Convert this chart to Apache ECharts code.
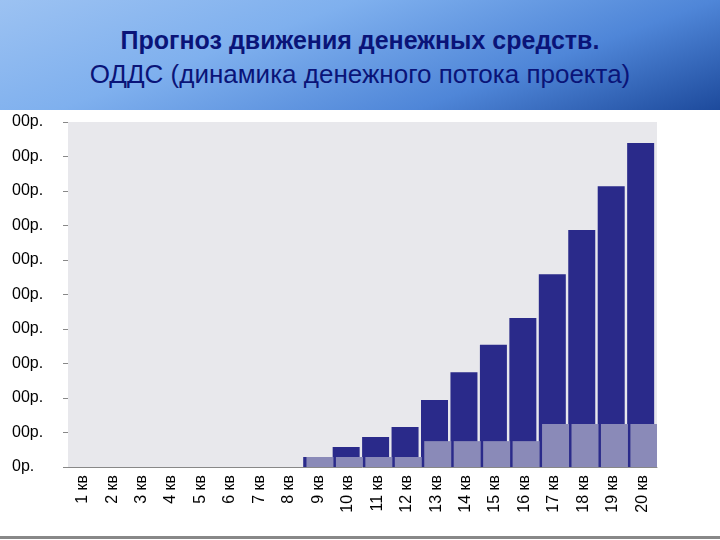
<!DOCTYPE html>
<html>
<head>
<meta charset="utf-8">
<script src="https://cdn.jsdelivr.net/npm/echarts@6/dist/echarts.min.js"></script>
<style>
  body { margin: 0; width: 720px; height: 540px; background: #fff; overflow: hidden; }
  #head {
    position: absolute; left: 0; top: 0; width: 720px; height: 110px;
    background: linear-gradient(160deg, #9cc2f2 0%, #7fb0ee 35%, #4f86d8 70%, #1d4a9c 100%);
  }
  #head div { text-align: center; color: #0a1478; font-family: "Liberation Sans", Arial, sans-serif; }
  #t1 { font-weight: bold; font-size: 25px; padding-top: 26px; }
  #t2 { font-size: 26px; margin-top: 4px; }
  #chart { position: absolute; left: 0; top: 110px; width: 720px; height: 430px; }
  #foot { position: absolute; left: 0; top: 536px; width: 720px; height: 3px; background: #888; }
</style>
</head>
<body>
<div id="head"><div id="t1">Прогноз движения денежных средств.</div><div id="t2">ОДДС (динамика денежного потока проекта)</div></div>
<div id="chart"></div>
<div id="foot"></div>
<script>
const quarters = ['1 кв', '2 кв', '3 кв', '4 кв', '5 кв', '6 кв', '7 кв', '8 кв', '9 кв', '10 кв',
  '11 кв', '12 кв', '13 кв', '14 кв', '15 кв', '16 кв', '17 кв', '18 кв', '19 кв', '20 кв'];
const totalFlow = [0, 0, 0, 0, 0, 0, 0, 0, 0.29, 0.58, 0.87, 1.16, 1.94, 2.75, 3.54, 4.32, 5.59, 6.87, 8.14, 9.39];
const quarterFlow = [0, 0, 0, 0, 0, 0, 0, 0, 0.29, 0.29, 0.29, 0.29, 0.75, 0.75, 0.75, 0.75, 1.25, 1.25, 1.25, 1.25];

const myChart = echarts.init(document.getElementById('chart'));
const option = {
  animation: false,
  grid: { left: 68, right: 63, top: 12, bottom: 73 },
  xAxis: {
    type: 'category',
    data: quarters,
    axisLine: { lineStyle: { color: '#888' } },
    axisTick: { alignWithLabel: false, lineStyle: { color: '#888' } },
    axisLabel: { rotate: 90, color: '#000', fontSize: 16, fontFamily: 'Liberation Sans', interval: 0 },
  },
  yAxis: {
    type: 'value',
    min: 0,
    max: 10,
    interval: 1,
    splitLine: { show: false },
    axisLine: { show: false },
    axisTick: { show: true, length: 5, lineStyle: { color: '#888' } },
    axisLabel: {
      color: '#000', fontSize: 16, fontFamily: 'Liberation Sans', align: 'left', margin: 56,
      formatter: (v) => (v === 0 ? '0р.' : '00р.'),
    },
  },
  series: [
    {
      type: 'bar',
      data: totalFlow,
      barWidth: 27,
      itemStyle: { color: '#2a2a8a' },
    },
    {
      type: 'bar',
      data: quarterFlow,
      barWidth: 27,
      barGap: '-88%',
      itemStyle: { color: '#8a8ab8' },
    },
  ],
};
myChart.setOption(option);
// plot background
myChart.setOption({
  graphic: [{
    type: 'rect', z: -1,
    shape: { x: 68, y: 12, width: 589, height: 345 },
    style: { fill: '#e8e8ec' },
  }],
});
</script>
</body>
</html>
